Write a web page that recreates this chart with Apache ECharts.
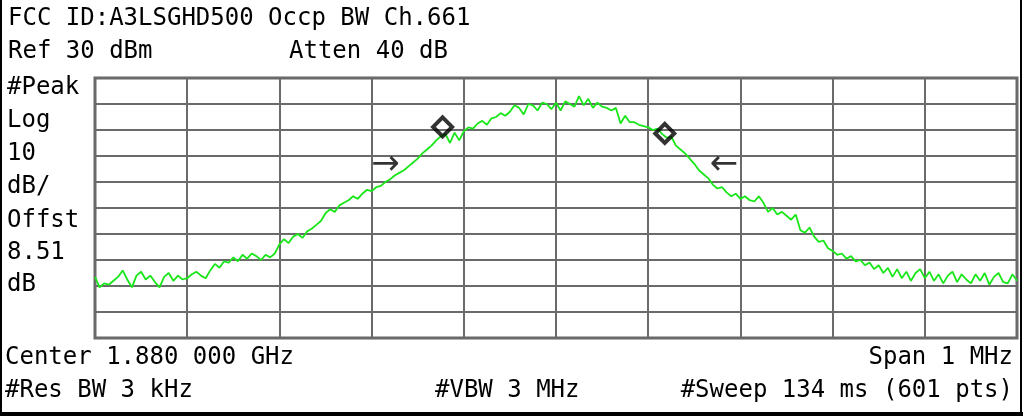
<!DOCTYPE html>
<html>
<head>
<meta charset="utf-8">
<title>FCC ID:A3LSGHD500 Occp BW Ch.661</title>
<script src="https://cdn.jsdelivr.net/npm/echarts@6/dist/echarts.min.js"></script>
<style>
  html, body { margin: 0; padding: 0; background: #fff; }
  #chart { width: 1023px; height: 416px; }
</style>
</head>
<body>
<div id="chart"></div>
<script>
  // span -500..+500 kHz around 1.880 GHz, 10 div, ref 30 dBm, 10 dB/div
  const spanKHz = [-500, 500];
  const stepKHz = 5;
  const refLevel = [-70, 30];

  // trace (one value per 5 kHz)
  const levelDbm = [
    -46.5, -50.5, -49, -49.5, -48, -46.5, -44, -47.5, -50.5, -46,
    -44.5, -47.5, -46, -48.5, -50.5, -46.5, -45, -48, -46, -47.5,
    -47, -45.5, -44.5, -46, -47, -44, -41.5, -43, -40.5, -41,
    -39, -40.5, -38, -39.5, -37.5, -38.5, -40, -38, -39, -37.5,
    -34, -32, -33.5, -31, -30, -31.5, -29, -28, -26.5, -25,
    -22, -20.5, -21.5, -19, -18, -17, -15.5, -16.5, -14.5, -13,
    -13.5, -12, -11.5, -10, -9, -7.5, -6.5, -5.5, -4, -2.5,
    -1, 1, 2.5, 4, 6, 7.5, 8.5, 5, 9, 6,
    9.5, 11, 10.5, 12.5, 13.5, 12, 14.5, 15, 16.5, 15.5,
    17, 19.5, 18.5, 16, 20, 19.5, 17.5, 20.5, 20, 18,
    20.5, 17.5, 21, 20, 19, 23, 19.5, 22, 18.5, 20.5,
    19, 18.5, 17.5, 18.5, 12.5, 15.5, 13, 13, 12, 11.5,
    11, 10, 10.5, 8.5, 7, 7.5, 4, 2.5, 1, -1,
    -3, -5.5, -7, -8.5, -11, -12.5, -12, -14, -15.5, -14.5,
    -16.5, -15.5, -17, -17.5, -15.5, -18, -21.5, -20, -22.5, -21.5,
    -23, -24.5, -22.5, -28.5, -29.5, -27.5, -31, -33, -32.5, -35.5,
    -36.5, -38, -37.5, -39.5, -38.5, -40.5, -40, -42, -41, -43.5,
    -42, -45, -43, -46.5, -43.5, -47, -44.5, -48, -45, -43.5,
    -47, -44.5, -48, -45.5, -49, -46, -44.5, -48.5, -45.5, -47.5,
    -49, -45.5, -48, -45, -49.5, -46.5, -45, -48.5, -49, -45.5, -48
  ];

  // occupied BW markers (diamonds) and the OBW arrows
  const markerKHz = [-123, 118];
  const markerDbm = [11.2, 8.7];
  const arrowKHz = [-185, 182];
  const arrowDbm = [-3.5, -3.5];
  const arrowText = ['→', '←'];

  const titleText = 'FCC ID:A3LSGHD500 Occp BW Ch.661';
  const leftLabels = ['#Peak', 'Log', '10', 'dB/', 'Offst', '8.51', 'dB'];

  const FONT = '"DejaVu Sans Mono", monospace';
  const FS = 24;

  function txt(s, x, y, align) {
    return {
      type: 'text',
      style: {
        text: s, x: x, y: y,
        align: align || 'left', verticalAlign: 'middle',
        fontFamily: FONT, fontSize: FS, fill: '#000'
      }
    };
  }

  const chart = echarts.init(document.getElementById('chart'));

  const traceData = levelDbm.map((v, i) => [spanKHz[0] + i * stepKHz, v]);

  let graphics = [
    // outer frame of the screen shot
    {type: 'rect', shape: {x: 1, y: -2, width: 1020, height: 415}, style: {fill: 'none', stroke: '#000', lineWidth: 2}},
    {type: 'rect', shape: {x: 0, y: 412, width: 1023, height: 4}, style: {fill: '#000'}},
    txt(titleText, 8, 19),
    txt('Ref 30 dBm', 8, 52),
    txt('Atten 40 dB', 289, 52),
    txt('Center 1.880 000 GHz', 5, 358),
    txt('Span 1 MHz', 1013, 358, 'right'),
    txt('#Res BW 3 kHz', 5, 391),
    txt('#VBW 3 MHz', 435, 391),
    txt('#Sweep 134 ms (601 pts)', 1013, 391, 'right')
  ];
  const leftY = [88, 121, 154, 187, 221, 253, 285];
  leftLabels.forEach((s, i) => graphics.push(txt(s, 7, leftY[i])));

  const option = {
    animation: false,
    backgroundColor: '#fff',
    grid: {left: 95, top: 78, width: 922, height: 260, show: true, borderColor: '#666', borderWidth: 3, backgroundColor: '#fff'},
    xAxis: {
      type: 'value', min: spanKHz[0], max: spanKHz[1], interval: 100,
      axisLabel: {show: false}, axisTick: {show: false}, axisLine: {show: false},
      splitLine: {show: true, lineStyle: {color: '#6a6a6a', width: 2}}
    },
    yAxis: {
      type: 'value', min: refLevel[0], max: refLevel[1], interval: 10,
      axisLabel: {show: false}, axisTick: {show: false}, axisLine: {show: false},
      splitLine: {show: true, lineStyle: {color: '#6a6a6a', width: 2}}
    },
    graphic: graphics,
    series: [
      {
        type: 'line',
        data: traceData,
        showSymbol: false,
        lineStyle: {color: '#19e619', width: 1.8},
        z: 3
      },
      {
        type: 'scatter',
        data: markerKHz.map((k, i) => [k, markerDbm[i]]),
        symbol: 'diamond',
        symbolSize: 19,
        itemStyle: {color: 'rgba(0,0,0,0)', borderColor: '#000', borderWidth: 4},
        z: 5
      },
      {
        type: 'scatter',
        data: arrowKHz.map((k, i) => [k, arrowDbm[i]]),
        symbolSize: 1,
        itemStyle: {color: 'rgba(0,0,0,0)'},
        label: {
          show: true, position: 'inside',
          formatter: (p) => arrowText[p.dataIndex],
          fontFamily: '"DejaVu Sans"', fontSize: 34, color: '#000'
        },
        z: 5
      }
    ]
  };

  chart.setOption(option);
</script>
</body>
</html>
